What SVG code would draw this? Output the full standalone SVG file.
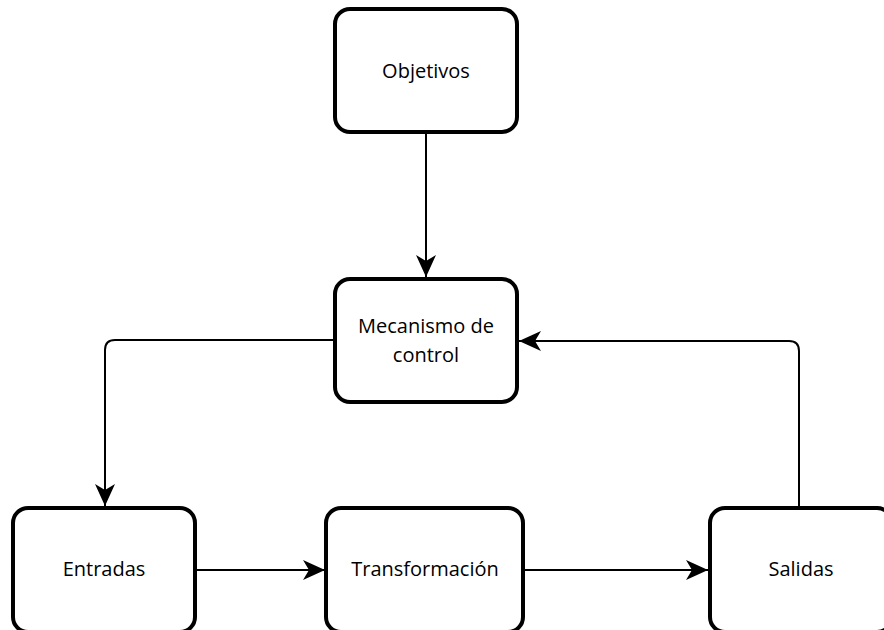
<svg xmlns="http://www.w3.org/2000/svg" width="884" height="630" viewBox="0 0 884 630">
  <style>
    .box { fill: #ffffff; stroke: #000000; stroke-width: 4; }
    .label { font-family: "Open Sans", "Noto Sans", "DejaVu Sans", sans-serif; font-size: 20px; fill: #000000; text-anchor: middle; }
    .edge { fill: none; stroke: #000000; stroke-width: 2; }
  </style>
  <defs>
    <marker id="arrow" markerUnits="userSpaceOnUse" markerWidth="24" markerHeight="22" refX="22" refY="11" orient="auto">
      <path d="M0,1 L22,11 L0,21 L6,11 Z" fill="#000000"/>
    </marker>
  </defs>

  <rect width="884" height="630" fill="#ffffff"/>

  <g id="connectors">
    <path class="edge" d="M426,132 L426,277" marker-end="url(#arrow)"/>
    <path class="edge" d="M335,340 L115,340 Q105,340 105,350 L105,506" marker-end="url(#arrow)"/>
    <path class="edge" d="M799,508 L799,351 Q799,341 789,341 L519,341" marker-end="url(#arrow)"/>
    <path class="edge" d="M195,570 L325,570" marker-end="url(#arrow)"/>
    <path class="edge" d="M523,570 L708,570" marker-end="url(#arrow)"/>
  </g>

  <g id="objetivos">
    <rect class="box" x="335" y="9" width="182" height="123" rx="15"/>
    <text class="label" x="426" y="78">Objetivos</text>
  </g>
  <g id="mecanismo">
    <rect class="box" x="335" y="279" width="182" height="123" rx="15"/>
    <text class="label" x="426" y="333">Mecanismo de</text>
    <text class="label" x="426" y="362">control</text>
  </g>
  <g id="entradas">
    <rect class="box" x="13" y="508" width="182" height="124" rx="15"/>
    <text class="label" x="104" y="576">Entradas</text>
  </g>
  <g id="transformacion">
    <rect class="box" x="326" y="508" width="197" height="124" rx="15"/>
    <text class="label" x="425" y="576">Transformación</text>
  </g>
  <g id="salidas">
    <rect class="box" x="710" y="508" width="182" height="124" rx="15"/>
    <text class="label" x="801" y="576">Salidas</text>
  </g>
</svg>
